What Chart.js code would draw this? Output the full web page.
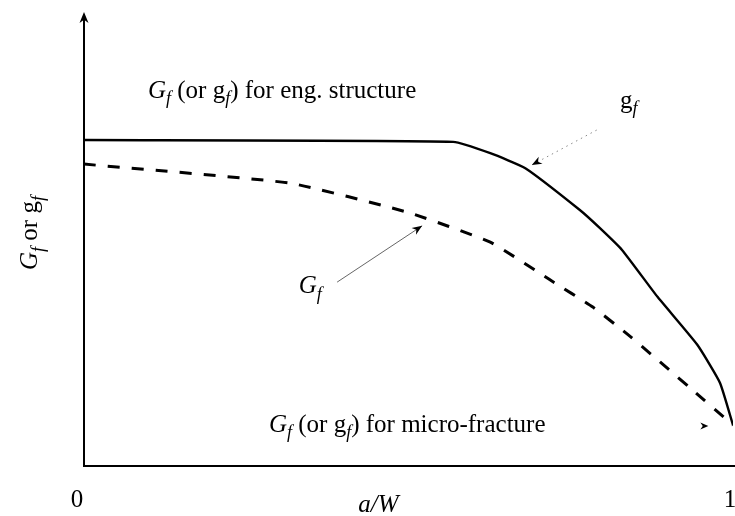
<!DOCTYPE html>
<html>
<head>
<meta charset="utf-8">
<script src="https://cdn.jsdelivr.net/npm/chart.js@4/dist/chart.umd.min.js"></script>
<style>
  html, body { margin: 0; padding: 0; background: #fff; }
  #wrap { width: 735px; height: 516px; }
</style>
</head>
<body>
<div id="wrap"><canvas id="c" width="735" height="516"></canvas></div>
<script>
// Fracture energy curves versus relative crack length a/W
const crackRatioEng   = [0, 0.569, 0.626, 0.680, 0.764, 0.795, 0.829, 0.884, 0.945, 0.980, 1.0];
const energyEng       = [71.8, 71.4, 68.9, 65.6, 56.4, 52.4, 47.6, 37.2, 26.7, 18.3, 9.0];
const crackRatioMicro = [0, 0.317, 0.498, 0.626, 0.718, 0.784, 0.841, 0.934, 1.0];
const energyMicro     = [66.5, 62.3, 55.9, 49.3, 41.0, 35.0, 28.6, 17.2, 9.0];
const xTickValues = [0, 1];
const xTickLabels = ['0', '1'];

const SERIF = '"Liberation Serif", "Times New Roman", serif';
const LABEL_SIZE = 25;

function toPoints(xs, ys) { return xs.map((x, i) => ({ x: x, y: ys[i] })); }

// Draw text made of runs: [text, style], style '' roman, 'i' italic, 's' italic subscript
function drawRich(ctx, runs, x, y, size, align) {
  const fontFor = s => ((s === 'i' || s === 's') ? 'italic ' : '') +
    (s === 's' ? Math.round(size * 0.72) : size) + 'px ' + SERIF;
  let total = 0;
  const widths = runs.map(r => { ctx.font = fontFor(r[1]); const w = ctx.measureText(r[0]).width; total += w; return w; });
  let cx = align === 'center' ? x - total / 2 : x;
  ctx.textAlign = 'left';
  ctx.textBaseline = 'alphabetic';
  runs.forEach((r, i) => {
    ctx.font = fontFor(r[1]);
    ctx.fillText(r[0], cx, y + (r[1] === 's' ? size * 0.26 : 0));
    cx += widths[i];
  });
}

function arrowHead(ctx, tx, ty, angle, len, half) {
  ctx.save();
  ctx.translate(tx, ty);
  ctx.rotate(angle);
  ctx.beginPath();
  ctx.moveTo(0, 0);
  ctx.lineTo(-len, -half);
  ctx.lineTo(-len * 0.7, 0);
  ctx.lineTo(-len, half);
  ctx.closePath();
  ctx.fill();
  ctx.restore();
}

// Annotation anchors in data units (a/W, energy)
const notes = {
  engLabel:   { x: 0.0986, y: 81.1 },
  gLabel:     { x: 0.826,  y: 78.9 },
  gArrowFrom: { x: 0.790,  y: 74.0 },
  gArrowTo:   { x: 0.690,  y: 66.3 },
  GLabel:     { x: 0.331,  y: 38.1 },
  GArrowFrom: { x: 0.390,  y: 40.5 },
  GArrowTo:   { x: 0.521,  y: 52.9 },
  microLabel: { x: 0.285,  y: 7.5 },
  microArrow: { x: 0.962,  y: 8.8 }
};

const decorations = {
  id: 'decorations',
  afterDatasetsDraw(chart) {
    const ctx = chart.ctx;
    const xs = chart.scales.x, ys = chart.scales.y;
    const px = v => xs.getPixelForValue(v), py = v => ys.getPixelForValue(v);
    const x0 = px(0), y0 = py(0), yTop = py(100);
    ctx.save();
    ctx.fillStyle = '#000';
    ctx.strokeStyle = '#000';

    // axes
    ctx.lineWidth = 2;
    ctx.beginPath();
    ctx.moveTo(x0, y0);
    ctx.lineTo(x0, yTop + 6);
    ctx.moveTo(x0 - 1, y0);
    ctx.lineTo(chart.width, y0);
    ctx.stroke();
    arrowHead(ctx, x0, yTop, -Math.PI / 2, 11, 4.5);

    // tick labels
    ctx.font = LABEL_SIZE + 'px ' + SERIF;
    ctx.textAlign = 'center';
    ctx.textBaseline = 'alphabetic';
    xTickValues.forEach((v, i) => {
      const lx = i === 0 ? px(v) - 7 : px(v) - 3;
      ctx.fillText(xTickLabels[i], lx, y0 + 41);
    });

    // axis titles
    drawRich(ctx, [['a/W', 'i']], (px(0) + px(1)) / 2 - 30, y0 + 46, LABEL_SIZE, 'center');
    ctx.save();
    ctx.translate(37, 233);
    ctx.rotate(-Math.PI / 2);
    drawRich(ctx, [['G', 'i'], ['f', 's'], [' or ', ''], ['g', ''], ['f', 's']], 0, 0, LABEL_SIZE, 'center');
    ctx.restore();

    // curve labels
    drawRich(ctx, [['G', 'i'], ['f', 's'], [' (or ', ''], ['g', ''], ['f', 's'], [') for eng. structure', '']],
      px(notes.engLabel.x), py(notes.engLabel.y), LABEL_SIZE, 'left');
    drawRich(ctx, [['g', ''], ['f', 's']], px(notes.gLabel.x), py(notes.gLabel.y), LABEL_SIZE, 'left');
    drawRich(ctx, [['G', 'i'], ['f', 's']], px(notes.GLabel.x), py(notes.GLabel.y), LABEL_SIZE, 'left');
    drawRich(ctx, [['G', 'i'], ['f', 's'], [' (or ', ''], ['g', ''], ['f', 's'], [') for micro-fracture', '']],
      px(notes.microLabel.x), py(notes.microLabel.y), LABEL_SIZE, 'left');

    // pointer to the g_f curve (dotted)
    let ax = px(notes.gArrowFrom.x), ay = py(notes.gArrowFrom.y);
    let bx = px(notes.gArrowTo.x), by = py(notes.gArrowTo.y);
    ctx.strokeStyle = '#888';
    ctx.lineWidth = 1;
    ctx.setLineDash([1.5, 4]);
    ctx.beginPath(); ctx.moveTo(ax, ay); ctx.lineTo(bx, by); ctx.stroke();
    ctx.setLineDash([]);
    arrowHead(ctx, bx, by, Math.atan2(by - ay, bx - ax), 10, 4);

    // pointer to the G_f curve
    ax = px(notes.GArrowFrom.x); ay = py(notes.GArrowFrom.y);
    bx = px(notes.GArrowTo.x); by = py(notes.GArrowTo.y);
    ctx.strokeStyle = '#555';
    ctx.lineWidth = 0.9;
    ctx.beginPath(); ctx.moveTo(ax, ay); ctx.lineTo(bx, by); ctx.stroke();
    arrowHead(ctx, bx, by, Math.atan2(by - ay, bx - ax), 10, 4);

    // small pointer toward the curve ends
    arrowHead(ctx, px(notes.microArrow.x), py(notes.microArrow.y), 0, 8, 3.5);
    ctx.restore();
  }
};

new Chart(document.getElementById('c'), {
  type: 'line',
  data: {
    datasets: [
      {
        label: 'g_f (eng. structure)',
        data: toPoints(crackRatioEng, energyEng),
        borderColor: '#000',
        borderWidth: 2.4,
        pointRadius: 0,
        tension: 0.15,
        fill: false
      },
      {
        label: 'G_f',
        data: toPoints(crackRatioMicro, energyMicro),
        borderColor: '#000',
        borderWidth: 3,
        borderDash: [12, 12],
        pointRadius: 0,
        tension: 0.15,
        fill: false
      }
    ]
  },
  options: {
    responsive: false,
    animation: false,
    devicePixelRatio: 1,
    layout: { padding: { left: 84, right: 2, top: 12, bottom: 50 } },
    scales: {
      x: { type: 'linear', min: 0, max: 1, display: false },
      y: { type: 'linear', min: 0, max: 100, display: false }
    },
    plugins: { legend: { display: false }, tooltip: { enabled: false } }
  },
  plugins: [decorations]
});
</script>
</body>
</html>
